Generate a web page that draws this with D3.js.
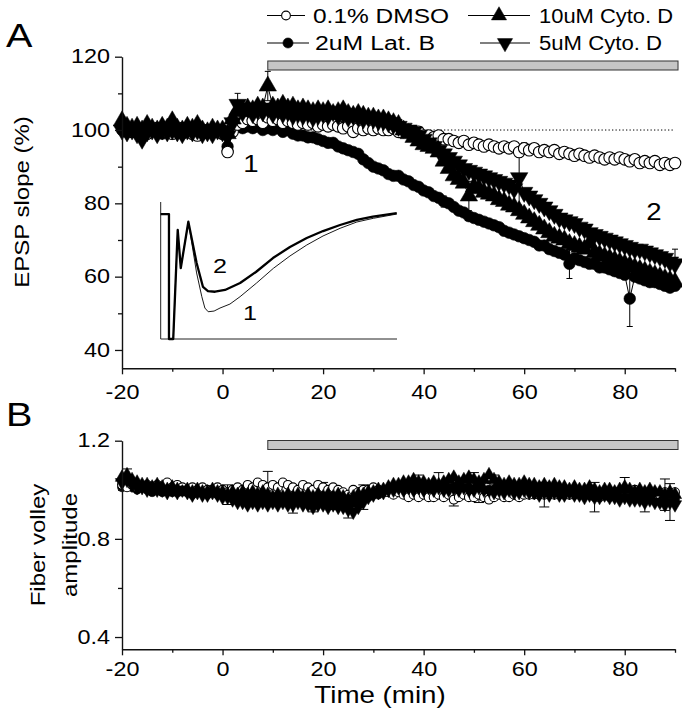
<!DOCTYPE html>
<html><head><meta charset="utf-8">
<script src="https://cdn.jsdelivr.net/npm/d3@7"></script>
<style>
body{margin:0;background:#fff;}
svg{display:block;font-family:"Liberation Sans",Arial,Helvetica,sans-serif;}
</style></head><body>
<svg id="chart" width="682" height="720"></svg>
<script>
// ---------------- DATA ----------------
const time = [-20,-19,-18,-17,-16,-15,-14,-13,-12,-11,-10,-9,-8,-7,-6,-5,-4,-3,-2,-1,
 0,1,2,3,4,5,6,7,8,9,10,11,12,13,14,15,16,17,18,19,20,21,22,23,24,25,26,27,28,29,30,
 31,32,33,34,35,36,37,38,39,40,41,42,43,44,45,46,47,48,49,50,51,52,53,54,55,56,57,58,59,60,
 61,62,63,64,65,66,67,68,69,70,71,72,73,74,75,76,77,78,79,80,81,82,83,84,85,86,87,88,89,90];

// Panel A: EPSP slope (%)
const dmsoA = [101,100,99.5,100.5,100,99,100,100.5,99.5,100,99,99.5,100.5,100,99,98.5,99.5,100,99.5,100,
 99,94,99.5,101.5,102,103,102.5,103,102,103.5,102.5,
 103,102,102.5,102,101.5,102,101.5,102,101,101.5,
 101,101.5,101,100.5,101,99.5,100.5,100,100.5,100,
 100.5,100,100,100.5,99.5,100,99.5,99,99.5,98.5,
 98.5,98,98.5,97.5,97.5,97,96.5,97,96,96.5,
 96,95.5,96,95.5,95,95.5,95,95.5,94,95,
 94.5,95,94,94.5,94,94.5,93.5,94,93.5,93,
 93.5,93,92.5,93,92.5,92,92.5,92,92.5,92,
 91.5,92,91,91.5,91,91.5,90.5,91,90.5,91];
const latbA = [100,99.5,100.5,100,99,100,100.5,99.5,99,100,99.5,100,99,100.5,99.5,100,99,99.5,100,99.5,
 99.5,95.5,100,101,100.5,101,100.5,101,100,100.5,100,
 100.5,99.5,100,99,98.5,98.5,98,98,97.5,97,
 96.5,96.5,95.5,95,94.5,94,93.5,92,91,90,
 89.5,89,88,87.5,87.5,86.5,86,85,84.5,83.5,
 83,82,81.5,80.5,80,79,78,77.5,76.5,76,
 75.5,75,74.5,74,73.5,72.5,72,71.5,71,70.5,
 70,69.5,68.5,68.5,67.5,67,66.5,66,63.5,65,
 64.5,64,63.5,63.5,62.5,62.5,62,61.5,61,60.5,
 54,60,59.5,59,58.5,58.5,58,57.5,57,57.5];
const cyto10A = [102.5,101,100.5,101,100,101.5,100.5,100,101,100.5,102.5,100.5,100,101,100.5,101.5,100,99.5,100.5,100,
 100,99,103,105.5,105,106,105.5,106.5,106,112,106.5,
 106,107,106,106.5,105.5,106,105.5,105,105.5,105,
 105.5,104.5,105,105.5,104.5,104,104.5,104,103.5,103.5,
 103,103,102.5,102,101.5,100,99,98,97,96,
 95.5,95,94,91.5,89.5,87.5,86.5,85.5,82,84.5,
 84,83,82.5,82,81,80.5,79.5,79,78,77,
 76,75,74,73,72,71,70.5,70,69,68.5,
 68,67.5,69,66.5,66,65.5,65,64.5,64,63.5,
 63,62.5,62,61.5,61,60.5,60,59.5,59,58.5];
const cyto5A = [100,99.5,100,99,97.5,99.5,100,99,100,99.5,100,99.5,99,100,99.5,100,99,99.5,99,100,
 99.5,98.5,102,107,105,106,104.5,105.5,105,106,104.5,
 105.5,104.5,105,104,104.5,104,104.5,103.5,104,104.5,
 104,105,104,104.5,103.5,104,103.5,103,103.5,103,
 102.5,102.5,102,101.5,101,100.5,100,99.5,98.5,97.5,
 96.5,95.5,94.5,93.5,92.5,91.5,90.5,89.5,89,88.5,
 88,87.5,87,86.5,86,85.5,85,84,87,83,
 82,81,80,79,78,77,76,75.5,75,74.5,
 73.5,73,72,71.5,71,70.5,70,69.5,69,68.5,
 68,67.5,67.5,67,66.5,66,65.5,65,64,63.5];

// Panel B: fiber volley amplitude
const dmsoB = [1.02,1.01,1.02,1.01,1.01,1.02,1.01,1.02,1.01,1.03,1.01,1.02,1.01,1.00,1.01,1.00,1.01,1.00,1.00,1.01,
 1.00,0.99,1.00,1.01,1.00,1.02,1.01,1.03,1.02,1.01,1.02,1.01,1.03,1.02,1.01,1.00,1.02,1.01,1.00,1.02,1.01,1.00,1.01,1.00,0.99,0.98,1.00,0.99,1.00,1.00,1.01,
 1.00,0.99,0.99,0.98,0.99,0.98,0.97,0.98,0.97,0.98,0.97,0.97,0.98,0.97,0.98,0.96,0.97,0.98,0.97,0.97,0.98,0.97,0.96,0.97,0.98,0.97,0.97,0.98,0.97,0.98,
 0.98,0.99,0.98,0.98,0.99,0.98,0.99,0.98,0.98,0.99,0.98,0.99,0.98,0.98,0.97,0.98,0.98,0.99,0.98,0.98,0.99,1.00,0.99,0.98,0.99,0.98,0.98,0.99,0.98,0.99];
const latbB = [1.01,1.02,1.01,1.00,1.01,1.00,0.99,1.00,0.99,1.00,0.99,0.99,1.00,0.99,0.98,0.99,0.99,0.98,0.99,0.98,
 0.98,0.98,0.97,0.97,0.96,0.97,0.96,0.96,0.97,0.96,0.96,0.97,0.96,0.96,0.97,0.96,0.96,0.95,0.96,0.96,0.95,0.96,0.96,0.95,0.96,0.95,0.95,0.96,0.97,0.97,0.98,
 0.98,0.99,0.99,1.00,1.00,1.01,1.00,1.01,1.01,1.00,1.01,1.00,1.01,1.01,1.00,1.01,1.00,1.00,1.01,1.00,1.00,0.99,1.00,1.00,0.99,1.00,0.99,0.99,1.00,0.99,
 0.99,0.98,0.99,0.99,0.98,0.99,0.98,0.99,0.98,0.98,0.99,0.98,0.98,0.97,0.98,0.98,0.97,0.98,0.97,0.98,0.99,0.97,0.98,0.97,0.97,0.98,0.97,0.96,0.97,0.96];
const cyto10B = [1.05,1.06,1.04,1.03,1.02,1.02,1.01,1.02,1.01,1.00,1.01,1.00,0.99,1.00,0.99,1.00,0.99,0.99,1.00,0.99,
 0.99,0.98,0.99,0.98,0.99,0.98,0.99,0.98,0.99,0.98,0.97,0.98,0.97,0.98,0.97,0.98,0.97,0.98,0.97,0.98,0.97,0.98,0.97,0.98,0.97,0.96,0.97,0.98,0.98,0.99,0.99,
 1.00,1.00,1.01,1.02,1.02,1.03,1.03,1.04,1.03,1.03,1.02,1.03,1.02,1.03,1.04,1.05,1.03,1.04,1.05,1.04,1.03,1.04,1.06,1.04,1.03,1.02,1.03,1.02,1.02,1.03,
 1.02,1.02,1.01,1.02,1.01,1.02,1.01,1.01,1.00,1.01,1.00,1.00,1.01,1.00,0.99,1.00,1.00,0.99,1.00,1.01,1.00,0.99,1.00,0.99,1.00,0.99,0.99,0.98,0.99,0.98];
const cyto5B = [1.03,1.04,1.02,1.01,1.01,1.00,1.01,1.00,1.00,0.99,1.00,0.99,1.00,0.99,0.98,0.99,0.98,0.98,0.99,0.98,
 0.97,0.97,0.96,0.95,0.95,0.94,0.95,0.94,0.95,0.94,0.95,0.94,0.95,0.94,0.94,0.95,0.94,0.94,0.93,0.94,0.94,0.93,0.94,0.93,0.93,0.92,0.91,0.93,0.95,0.97,0.98,
 0.99,0.99,1.00,1.00,1.01,1.00,1.01,1.00,1.01,1.00,1.01,1.00,1.01,1.00,1.00,1.01,1.00,1.01,1.00,1.00,1.01,1.00,1.00,0.99,1.00,0.99,1.00,0.99,0.99,1.00,
 0.99,0.99,0.98,0.99,0.98,0.99,0.98,0.98,0.99,0.98,0.98,0.97,0.98,0.97,0.97,0.98,0.97,0.97,0.96,0.97,0.96,0.96,0.96,0.95,0.96,0.95,0.95,0.94,0.95,0.94];

// Visible error bars (series, time, SEM)
const errA = [["cyto10",9,4],["cyto5",3,3],["cyto10",49,4],["cyto5",59,7.5],["latb",69,4],["latb",81,7.6],["cyto5",90,4],["latb",44,1.5],["dmso",60,1.5]];
const errB = [["cyto10",-19,0.025],["dmso",9,0.065],["latb",1,0.04],["cyto5",14,0.035],["cyto5",18,0.02],["latb",22,0.04],
 ["cyto5",25,0.035],["latb",28,0.05],["dmso",20,0.02],["cyto10",39,0.03],["cyto10",43,0.05],["cyto10",50,0.03],["cyto10",54,0.02],
 ["dmso",46,0.026],["dmso",51,0.032],["dmso",64,0.05],["cyto5",74,0.06],["cyto10",80,0.04],["cyto10",88,0.064],["cyto5",89,0.075],["cyto5",84,0.04]];

// Treatment period (min)
const treatStart = 9, treatEnd = 90.6;

// Inset EPSP traces (relative time, relative amplitude)
const traceStart = [[0,91.2],[3.5,91.2],[3.5,0],[5.3,0],[7.2,79.6],[8.5,51.8],[11.7,85.6]];
const trace1 = [[15.2,48.2],[17.4,30.9],[18.7,22.6],[20.1,19.9],[22.6,20.4],[25.1,22.6],[29.3,25.5],[33.6,30.9],[40.6,40.9],[47.7,51.6],[54.7,60.6],[61.8,68.6],[68.7,75.2],[75.9,80.8],[83,85.4],[90,88.1],[99.9,91.2]];
const trace2 = [[15.2,55.5],[17.9,38],[20,35],[23,34.5],[27.2,35.8],[33.6,40.9],[40.3,48.9],[47.5,59.1],[54.7,67.2],[61.8,73.7],[68.7,78.8],[75.9,83.2],[83,86.9],[89.8,89.3],[99.9,91.8]];

// Ticks / labels
const xMajor = [-20,0,20,40,60,80], xMinor = [-10,10,30,50,70,90];
const yAMajor = [40,60,80,100,120], yAMinor = [50,70,90,110];
const yBMajor = [0.4,0.8,1.2], yBMinor = [0.6,1.0];
const legendLabels = {dmso:"0.1% DMSO", latb:"2uM Lat. B", cyto10:"10uM Cyto. D", cyto5:"5uM Cyto. D"};

// ---------------- DRAW ----------------
const svg = d3.select('#chart');
const SX = 1.2;
const x = d3.scaleLinear().domain([-20,90]).range([122,675]);
const yA = d3.scaleLinear().domain([35,120]).range([368.3,56.7]);
const yB = d3.scaleLinear().domain([0.35,1.2]).range([649.3,440.7]);
const ix = d3.scaleLinear().domain([0,100]).range([160.7,397]);
const iy = d3.scaleLinear().domain([0,100]).range([339,202]);

function text(g, px, py, s, size, anchor, rot, sx) {
  return g.append('text')
    .attr('transform', `translate(${px},${py})` + (rot ? ' rotate(-90)' : '') + ` scale(${sx || SX},1)`)
    .attr('font-size', size).attr('text-anchor', anchor || 'start').attr('fill', '#000').text(s);
}

function styleAxis(g, size) {
  g.attr('font-family', null).attr('font-size', size);
  g.select('.domain').attr('stroke', '#111').attr('stroke-width', 1.4);
  g.selectAll('.tick line').attr('stroke', '#111').attr('stroke-width', 1.3);
  g.selectAll('.tick text').attr('fill', '#000');
}

function axes(yScale, yMajor, yMinor, fmt, xPad) {
  const gy = svg.append('g').attr('transform', 'translate(122,0)')
    .call(d3.axisLeft(yScale).tickValues(yMajor).tickSize(7).tickSizeOuter(0).tickPadding(3).tickFormat(fmt));
  styleAxis(gy, 19.5);
  gy.selectAll('.tick text').attr('transform', `scale(${SX},1)`);
  const gy2 = svg.append('g').attr('transform', 'translate(122,0)')
    .call(d3.axisLeft(yScale).tickValues(yMinor).tickSize(4).tickSizeOuter(0).tickFormat(''));
  styleAxis(gy2, 10); gy2.select('.domain').remove();
  const y0 = yScale.range()[0];
  const gx = svg.append('g').attr('transform', `translate(0,${y0})`)
    .call(d3.axisBottom(x).tickValues(xMajor).tickSize(6).tickSizeOuter(0).tickPadding(xPad).tickFormat(d3.format('d')));
  styleAxis(gx, 19.5);
  gx.selectAll('.tick text').attr('transform', `scale(${SX},1)`).text(d => d < 0 ? '-' + Math.abs(d) : d);
  const gx2 = svg.append('g').attr('transform', `translate(0,${y0})`)
    .call(d3.axisBottom(x).tickValues(xMinor).tickSize(3.5).tickSizeOuter(0).tickFormat(''));
  styleAxis(gx2, 10); gx2.select('.domain').remove();
}

function marker(sel, type, size) {
  if (type === 'open' || type === 'filled') {
    const r = Math.sqrt(size / Math.PI);
    return sel.append('circle').attr('r', r)
      .attr('fill', type === 'open' ? '#fff' : '#000').attr('stroke', '#000').attr('stroke-width', type === 'open' ? 1.1 : 0.6);
  }
  return sel.append('path').attr('d', d3.symbol(d3.symbolTriangle, size * 1.25)())
    .attr('transform', type === 'down' ? 'rotate(180)' : null)
    .attr('fill', '#000').attr('stroke', '#000').attr('stroke-width', 0.5);
}

function panel(yScale, list, errs, msize, cap) {
  const g = svg.append('g');
  errs.forEach(([key, t, e]) => {
    const s = list.find(d => d.key === key); const v = s.vals[time.indexOf(t)];
    const eg = g.append('g').attr('stroke', '#000').attr('stroke-width', 1);
    eg.append('line').attr('x1', x(t)).attr('x2', x(t)).attr('y1', yScale(v - e)).attr('y2', yScale(v + e));
    [v - e, v + e].forEach(w => eg.append('line').attr('x1', x(t) - cap).attr('x2', x(t) + cap).attr('y1', yScale(w)).attr('y2', yScale(w)));
  });
  list.forEach(s => {
    const pts = time.map((t, i) => [t, s.vals[i]]);
    g.append('path').datum(pts).attr('fill', 'none').attr('stroke', '#000').attr('stroke-width', 1)
      .attr('d', d3.line().x(d => x(d[0])).y(d => yScale(d[1])));
    const mg = g.append('g');
    pts.forEach(p => {
      const m = mg.append('g').attr('transform', `translate(${x(p[0])},${yScale(p[1])})`);
      marker(m, s.marker, msize);
    });
  });
}

// ---- Panel A ----
text(svg, 6, 47, 'A', 33, 'start');
svg.append('line').attr('x1', x(-20)).attr('x2', x(90)).attr('y1', yA(100)).attr('y2', yA(100))
  .attr('stroke', '#000').attr('stroke-width', 1).attr('stroke-dasharray', '1.3,2.2');
const seriesA = [
  {key:'latb', vals: latbA, marker:'filled'},
  {key:'dmso', vals: dmsoA, marker:'open'},
  {key:'cyto10', vals: cyto10A, marker:'up'},
  {key:'cyto5', vals: cyto5A, marker:'down'}
];
panel(yA, seriesA, errA, 105, 3);
axes(yA, yAMajor, yAMinor, d3.format('d'), 11);
svg.append('rect').attr('x', x(treatStart)).attr('y', 61).attr('width', x(treatEnd) - x(treatStart)).attr('height', 9)
  .attr('fill', '#c6c6c6').attr('stroke', '#333').attr('stroke-width', 1);
text(svg, 29, 202, 'EPSP slope (%)', 20, 'middle', true);
text(svg, 251, 171.7, '1', 23, 'middle');
text(svg, 654, 220, '2', 23, 'middle');

// inset
const ins = svg.append('g');
ins.append('path').attr('d', `M${ix(0)},${iy(100)}V${iy(0)}H${ix(100)}`).attr('fill','none').attr('stroke','#222').attr('stroke-width',1);
const iline = d3.line().x(d => ix(d[0])).y(d => iy(d[1]));
ins.append('path').datum(traceStart.concat(trace1)).attr('d', iline).attr('fill','none').attr('stroke','#000').attr('stroke-width',0.9);
ins.append('path').datum(traceStart.concat(trace2)).attr('d', iline).attr('fill','none').attr('stroke','#000').attr('stroke-width',2.3).attr('stroke-linejoin','round');
text(svg, 220, 273.3, '2', 21, 'middle');
text(svg, 250, 320, '1', 21, 'middle');

// legend
const legend = [
  {key:'dmso', marker:'open', x1:267, x2:305, tx:313, y:15.5, w:136},
  {key:'latb', marker:'filled', x1:267, x2:309, tx:315, y:43, w:120},
  {key:'cyto10', marker:'up', x1:468, x2:530, tx:539, y:15.5, w:134},
  {key:'cyto5', marker:'down', x1:480, x2:530, tx:539, y:43, w:123}
];
legend.forEach(l => {
  svg.append('line').attr('x1', l.x1).attr('x2', l.x2).attr('y1', l.y).attr('y2', l.y).attr('stroke','#000').attr('stroke-width',1.2);
  const m = svg.append('g').attr('transform', `translate(${(l.x1 + l.x2) / 2},${l.y})`);
  marker(m, l.marker, l.marker === 'open' ? 60 : 80);
  svg.append('text').attr('x', l.tx).attr('y', l.y + 7.2).attr('font-size', 20)
    .attr('textLength', l.w).attr('lengthAdjust', 'spacingAndGlyphs').attr('fill', '#000').text(legendLabels[l.key]);
});

// ---- Panel B ----
text(svg, 6, 426, 'B', 33, 'start');
const seriesB = [
  {key:'latb', vals: latbB, marker:'filled'},
  {key:'dmso', vals: dmsoB, marker:'open'},
  {key:'cyto10', vals: cyto10B, marker:'up'},
  {key:'cyto5', vals: cyto5B, marker:'down'}
];
panel(yB, seriesB, errB, 62, 5);
axes(yB, yBMajor, yBMinor, d3.format('.1f'), 7);
svg.append('rect').attr('x', x(treatStart)).attr('y', 440.5).attr('width', x(treatEnd) - x(treatStart)).attr('height', 9)
  .attr('fill', '#c6c6c6').attr('stroke', '#333').attr('stroke-width', 1);
text(svg, 45, 545, 'Fiber volley', 20, 'middle', true);
text(svg, 77, 545, 'amplitude', 20, 'middle', true);
text(svg, 380, 703, 'Time (min)', 23.5, 'middle', false, 1.18);
</script>
</body></html>
